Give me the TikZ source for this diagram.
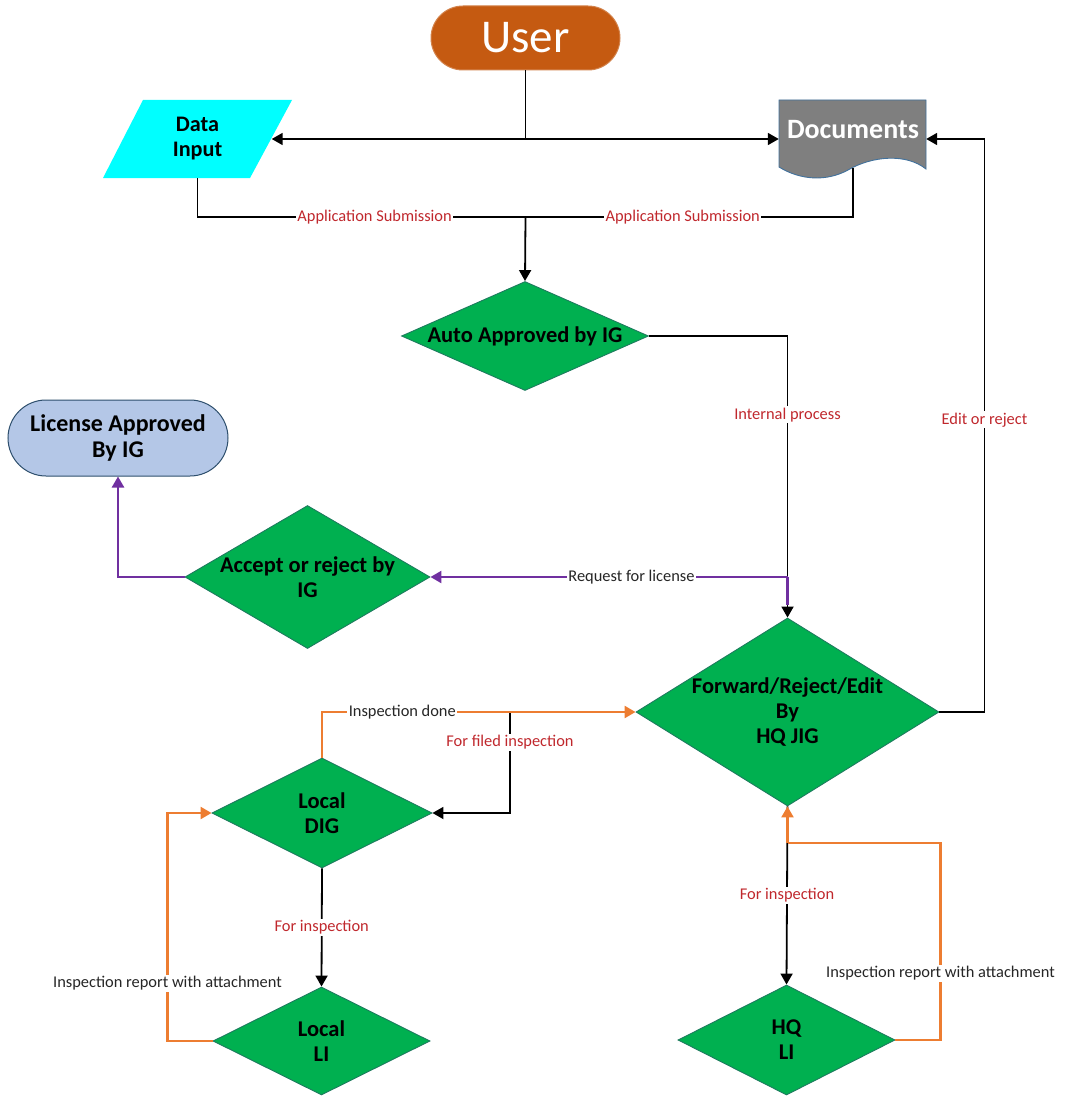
\documentclass[tikz,border=0pt]{standalone}
\usepackage{fontspec}
\setmainfont{Carlito}
\usetikzlibrary{arrows.meta,shapes.geometric,shapes.misc,calc}
\definecolor{dgreen}{HTML}{00B050}
\definecolor{dborder}{HTML}{1E7B5E}
\definecolor{oran}{HTML}{ED7D31}
\definecolor{purp}{HTML}{7030A0}
\definecolor{lblred}{HTML}{C0282D}
\definecolor{userfill}{HTML}{C55A11}
\definecolor{licfill}{HTML}{B4C7E7}
\definecolor{bluebd}{HTML}{41719C}
\definecolor{docfill}{HTML}{7F7F7F}
\definecolor{cyanfill}{HTML}{00FFFF}
\tikzset{
  conn/.style={line width=1.8pt, draw=black},
  arr/.style={-{Triangle[length=11pt,width=12pt]}},
  purpline/.style={line width=2.4pt, draw=purp},
  oranline/.style={line width=2.4pt, draw=oran},
  dia/.style={diamond, fill=dgreen, draw=dborder, line width=0.9pt, inner sep=0pt},
  dtext/.style={font=\bfseries\fontsize{22.5}{25}\selectfont, align=center, text=black},
  lbl/.style={fill=white, inner sep=1.5pt, font=\fontsize{16.4}{19}\selectfont, text=black!85},
  rlbl/.style={lbl, text=lblred},
}
\begin{document}
\begin{tikzpicture}[x=1pt,y=-1pt]
\useasboundingbox (0,0) rectangle (1066,1097);

% ---- nodes ----
\node[rounded rectangle, fill=userfill, draw=userfill!75!white, line width=1pt,
      minimum width=189, minimum height=64, inner sep=0pt,
      text=white, font=\fontsize{47}{50}\selectfont] (user) at (525.5,38) {User};

% Data Input (parallelogram)
\fill[cyanfill] (143,100) -- (292,100) -- (250,178) -- (103,178) -- cycle;
\node[minimum width=148, minimum height=78, inner sep=0pt, align=center,
      font=\bfseries\fontsize{22.2}{25}\selectfont] (din) at (197.5,139) {Data\\Input};

% Documents (document shape)
\filldraw[fill=docfill, draw=bluebd, line width=0.9pt]
  (779,100) -- (926,100) -- (926,169)
  .. controls (906,153) and (872,156) .. (848,170)
  .. controls (826,182) and (800,180) .. (779,167) -- cycle;
\node[minimum width=147, minimum height=78, inner sep=0pt] (doc) at (852.5,139) {};
\node[text=white, font=\bfseries\fontsize{28}{30}\selectfont, inner sep=0pt] (doctext) at (853,130) {Documents};

\node[dia, minimum width=247, minimum height=109,
      label={[dtext]center:Auto Approved by IG}] (auto) at (525,336) {};
\node[rounded rectangle, fill=licfill, draw=bluebd!70!black, line width=1pt,
      minimum width=220, minimum height=76, inner sep=0pt, align=center,
      font=\bfseries\fontsize{24}{26}\selectfont] (lic) at (118,438) {License Approved\\By IG};
\node[dia, minimum width=245, minimum height=143,
      label={[dtext]center:Accept or reject by\\IG}] (accept) at (307.5,577) {};
\node[dia, minimum width=303, minimum height=188,
      label={[dtext]center:Forward/Reject/Edit\\By\\HQ JIG}] (fwd) at (787.5,712) {};
\node[dia, minimum width=220, minimum height=110,
      label={[dtext]center:Local\\DIG}] (ldig) at (322,813) {};
\node[dia, minimum width=217, minimum height=108,
      label={[dtext]center:Local\\LI}] (lli) at (321.5,1041) {};
\node[dia, minimum width=217, minimum height=110,
      label={[dtext]center:HQ\\LI}] (hqli) at (786.5,1040) {};

\coordinate (uj) at (525.5,139);
\coordinate (aj) at (525.5,217);
\coordinate (rq) at (787.5,577);
\coordinate (fj) at (510,712);
\coordinate (hj) at (787.5,843);

% ---- connectors ----
\draw[conn] (user.south) -- (uj);
\draw[conn,arr] (uj) -- (din.east);
\draw[conn,arr] (uj) -- (doc.west);
\draw[conn] (din.south) |- node[rlbl,pos=0.77] {Application Submission} (aj);
\draw[conn] (853,168) |- node[rlbl,pos=0.76] {Application Submission} (aj);
\draw[conn,arr] (aj) -- (auto.north);
\draw[conn,arr] (auto.east) -| node[rlbl,pos=0.64] {Internal process} (fwd.north);
\draw[conn,arr] (fwd.east) -- ++(45,0) |- node[rlbl,pos=0.255] {Edit or reject} (doc.east);

\draw[purpline] ($(fwd.north)+(0,-13)$) -- (rq);
\draw[purpline,arr] (rq) -- node[lbl,pos=0.437] {Request for license} (accept.east);
\draw[purpline,arr] (accept.west) -| (lic.south);

\draw[conn,arr] (fj) |- node[rlbl,pos=0.15] {For filed inspection} (ldig.east);
\draw[oranline,arr] (ldig.north) |- node[lbl,pos=0.628] {Inspection done} (fwd.west);

\draw[conn,arr] (ldig.south) -- node[rlbl] {For inspection} (lli.north);
\draw[oranline,arr] (lli.west) -- ++(-45,0) |- node[lbl,pos=0.127] {Inspection report with attachment} (ldig.west);

\draw[conn,arr] (fwd.south) -- node[rlbl,pos=0.5] {For inspection} (hqli.north);
\draw[oranline] (hqli.east) -- ++(45,0) |- node[lbl,pos=0.17] {Inspection report with attachment} (hj);
\draw[oranline,arr] (hj) -- (fwd.south);
\end{tikzpicture}
\end{document}
